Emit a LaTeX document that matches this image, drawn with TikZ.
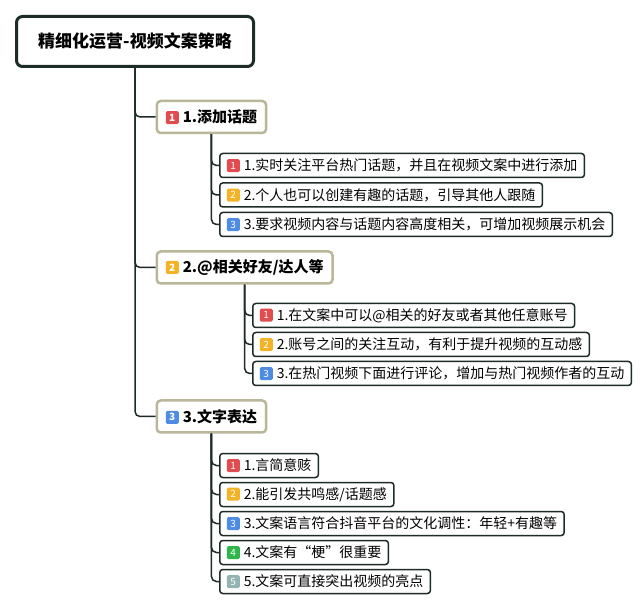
\documentclass[tikz,border=0pt]{standalone}
\usepackage{fontspec}
\setmainfont{Noto Sans CJK SC}
\usepackage{xcolor}
\usepackage{tikz}

\definecolor{linedark}{RGB}{30,44,40}
\definecolor{khaki}{RGB}{186,182,152}
\definecolor{bred}{RGB}{226,76,78}
\definecolor{borange}{RGB}{244,178,38}
\definecolor{bblue}{RGB}{78,140,228}
\definecolor{bgreen}{RGB}{46,182,76}
\definecolor{bgray}{RGB}{146,180,178}

% small numbered square in front of a text
\newcommand{\badge}[2]{\tikz[baseline=-5pt]\node[fill=#1,text=white,rounded corners=1.5pt,minimum size=13pt,inner sep=0pt,font=\fontsize{10}{10}\selectfont] at (0,0) {#2};\hspace{4pt}}

\begin{document}
\begin{tikzpicture}[x=1pt,y=-1pt,
  rootbox/.style={draw=linedark,line width=3pt,rounded corners=6pt,fill=white,minimum width=237pt,minimum height=50pt,font=\fontsize{17}{20}\selectfont\bfseries},
  topicbox/.style={draw=khaki,line width=2.5pt,rounded corners=4pt,fill=white,anchor=west,inner xsep=9pt,inner ysep=0pt,minimum height=32pt,font=\fontsize{15}{18}\selectfont\bfseries},
  itembox/.style={draw=linedark,line width=1.5pt,rounded corners=3pt,fill=white,anchor=west,inner xsep=7pt,inner ysep=0pt,minimum height=24pt,font=\fontsize{14}{16}\selectfont},
  link/.style={draw=linedark,line width=1.5pt,rounded corners=5pt}]
\fill[white] (0,0) rectangle (640,609);
\useasboundingbox (0,0) rectangle (640,609);

\node[rootbox] (root) at (135,41.5) {精细化运营-视频文案策略};

\node[topicbox] (t1) at (155.5,117) {\badge{bred}{1}1.添加话题};
\node[topicbox] (t2) at (155.5,267.5) {\badge{borange}{2}2.@相关好友/达人等};
\node[topicbox] (t3) at (155.5,416.5) {\badge{bblue}{3}3.文字表达};

\node[itembox] (i11) at (219,165.5) {\badge{bred}{1}1.实时关注平台热门话题，并且在视频文案中进行添加};
\node[itembox] (i12) at (219,195) {\badge{borange}{2}2.个人也可以创建有趣的话题，引导其他人跟随};
\node[itembox] (i13) at (219,224.5) {\badge{bblue}{3}3.要求视频内容与话题内容高度相关，可增加视频展示机会};

\node[itembox] (i21) at (252,315.5) {\badge{bred}{1}1.在文案中可以@相关的好友或者其他任意账号};
\node[itembox] (i22) at (252,344.5) {\badge{borange}{2}2.账号之间的关注互动，有利于提升视频的互动感};
\node[itembox] (i23) at (252,373.5) {\badge{bblue}{3}3.在热门视频下面进行评论，增加与热门视频作者的互动};

\node[itembox] (i31) at (219,465.5) {\badge{bred}{1}1.言简意赅};
\node[itembox] (i32) at (219,494.5) {\badge{borange}{2}2.能引发共鸣感/话题感};
\node[itembox] (i33) at (219,523.5) {\badge{bblue}{3}3.文案语言符合抖音平台的文化调性：年轻+有趣等};
\node[itembox] (i34) at (219,552.5) {\badge{bgreen}{4}4.文案有“梗”很重要};
\node[itembox] (i35) at (219,581.5) {\badge{bgray}{5}5.文案可直接突出视频的亮点};

\draw[link] (root.south) |- (t1.west);
\draw[link] (root.south) |- (t2.west);
\draw[link] (root.south) |- (t3.west);

\draw[link] (t1.south) |- (i11.west);
\draw[link] (t1.south) |- (i12.west);
\draw[link] (t1.south) |- (i13.west);

\draw[link] (t2.south) |- (i21.west);
\draw[link] (t2.south) |- (i22.west);
\draw[link] (t2.south) |- (i23.west);

\draw[link] (t3.south) |- (i31.west);
\draw[link] (t3.south) |- (i32.west);
\draw[link] (t3.south) |- (i33.west);
\draw[link] (t3.south) |- (i34.west);
\draw[link] (t3.south) |- (i35.west);
\end{tikzpicture}
\end{document}
